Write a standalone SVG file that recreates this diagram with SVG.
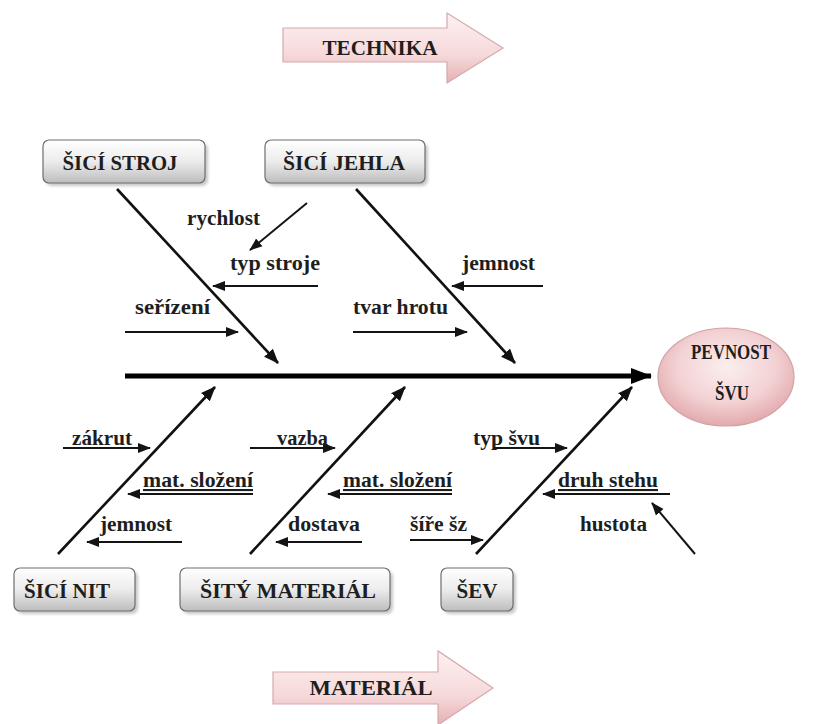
<svg xmlns="http://www.w3.org/2000/svg" width="819" height="724" viewBox="0 0 819 724" font-family="'Liberation Serif','DejaVu Serif',serif">
<style>
text{font-family:"Liberation Serif","DejaVu Serif",serif;font-weight:bold;fill:#1e1e1e}
.lbl{font-size:21px}
.box{font-size:22px}
.ul{text-decoration:underline}
.bx{fill:url(#gbox);stroke:#6e6e6e;stroke-width:1.2}
.sh{fill:#9a9a9a;opacity:0.55;filter:url(#blur)}
.big{fill:url(#gpink);stroke:#d6a9ac;stroke-width:1.2}
.c{stroke:#141414;stroke-width:2;fill:none;marker-end:url(#ah)}
.bone{stroke:#111;stroke-width:2.6;fill:none;marker-end:url(#ahb)}
</style>
<defs>
<linearGradient id="gbox" x1="0" y1="0" x2="0" y2="1">
<stop offset="0" stop-color="#ffffff"/>
<stop offset="0.5" stop-color="#ececec"/>
<stop offset="1" stop-color="#bdbdbd"/>
</linearGradient>
<linearGradient id="gpink" x1="0" y1="0" x2="0" y2="1">
<stop offset="0" stop-color="#fdf1f1"/>
<stop offset="0.6" stop-color="#f6d9da"/>
<stop offset="1" stop-color="#e6b0b3"/>
</linearGradient>
<radialGradient id="gell" cx="0.5" cy="0.4" r="0.6">
<stop offset="0" stop-color="#fbeeee"/>
<stop offset="0.6" stop-color="#f3d2d4"/>
<stop offset="1" stop-color="#e2a9ad"/>
</radialGradient>
<filter id="blur" x="-20%" y="-20%" width="140%" height="140%"><feGaussianBlur stdDeviation="1.5"/></filter>
<marker id="ah" markerUnits="userSpaceOnUse" markerWidth="14" markerHeight="12" refX="12" refY="5" orient="auto" viewBox="0 0 14 10">
<path d="M0,0 L13,5 L0,10 z" fill="#141414"/>
</marker>
<marker id="ahb" markerUnits="userSpaceOnUse" markerWidth="16" markerHeight="14" refX="14" refY="6" orient="auto" viewBox="0 0 16 12">
<path d="M0,0 L15,6 L0,12 z" fill="#111"/>
</marker>
<marker id="ahs" markerUnits="userSpaceOnUse" markerWidth="22" markerHeight="18" refX="20" refY="8" orient="auto" viewBox="0 0 22 16">
<path d="M0,0 L21,8 L0,16 z" fill="#000"/>
</marker>
</defs>
<rect width="819" height="724" fill="#ffffff"/>

<g id="technika">
<path d="M283,28 H447 V13 L503,48 L447,83 V62 H283 Z" class="big"/>
<text class="lbl" x="380" y="55" text-anchor="middle" textLength="115" lengthAdjust="spacingAndGlyphs">TECHNIKA</text>
</g>
<g id="material">
<path d="M273,672 H438 V651 L493,688 L438,725 V704 H273 Z" class="big"/>
<text class="lbl" x="371" y="695" text-anchor="middle" textLength="123" lengthAdjust="spacingAndGlyphs">MATERIÁL</text>
</g>

<g id="connectors">
<line x1="125" y1="376" x2="651" y2="376" stroke="#000" stroke-width="5" marker-end="url(#ahs)"/>
<line class="bone" x1="117" y1="189" x2="278" y2="363"/>
<line class="bone" x1="356" y1="189" x2="515" y2="363"/>
<line class="bone" x1="58" y1="554" x2="215" y2="387"/>
<line class="bone" x1="250" y1="554" x2="405" y2="387"/>
<line class="bone" x1="476" y1="554" x2="632" y2="387"/>
<line class="c" x1="307" y1="203" x2="250" y2="250"/>
<line class="c" x1="318" y1="286" x2="213" y2="286"/>
<line class="c" x1="125" y1="332" x2="238" y2="332"/>
<line class="c" x1="543" y1="286" x2="452" y2="286"/>
<line class="c" x1="353" y1="332" x2="467" y2="332"/>
<line class="c" x1="63" y1="448" x2="150" y2="448"/>
<line class="c" x1="250" y1="448" x2="335" y2="448"/>
<line class="c" x1="253" y1="494" x2="128" y2="494"/>
<line class="c" x1="182" y1="542" x2="87" y2="542"/>
<line class="c" x1="452" y1="494" x2="328" y2="494"/>
<line class="c" x1="362" y1="542" x2="276" y2="542"/>
<line class="c" x1="410" y1="540" x2="483" y2="540"/>
<line class="c" x1="495" y1="448" x2="567" y2="448"/>
<line class="c" x1="670" y1="494" x2="543" y2="494"/>
<line class="c" x1="695" y1="554" x2="652" y2="503"/>
</g>

<g id="labels">
<text class="lbl" x="187" y="225" textLength="73" lengthAdjust="spacingAndGlyphs">rychlost</text>
<text class="lbl" x="230" y="270" textLength="90" lengthAdjust="spacingAndGlyphs">typ stroje</text>
<text class="lbl" x="135" y="314" textLength="75" lengthAdjust="spacingAndGlyphs">seřízení</text>
<text class="lbl" x="462" y="270" textLength="73" lengthAdjust="spacingAndGlyphs">jemnost</text>
<text class="lbl" x="353" y="314" textLength="95" lengthAdjust="spacingAndGlyphs">tvar hrotu</text>
<text class="lbl" x="72" y="445" textLength="60" lengthAdjust="spacingAndGlyphs">zákrut</text>
<text class="lbl" x="277" y="445" textLength="51" lengthAdjust="spacingAndGlyphs">vazba</text>
<text class="lbl ul" x="143" y="487" textLength="110" lengthAdjust="spacingAndGlyphs">mat. složení</text>
<text class="lbl" x="100" y="531" textLength="72" lengthAdjust="spacingAndGlyphs">jemnost</text>
<text class="lbl ul" x="343" y="487" textLength="109" lengthAdjust="spacingAndGlyphs">mat. složení</text>
<text class="lbl" x="288" y="531" textLength="72" lengthAdjust="spacingAndGlyphs">dostava</text>
<text class="lbl" x="410" y="531" textLength="57" lengthAdjust="spacingAndGlyphs">šíře šz</text>
<text class="lbl" x="473" y="445" textLength="67" lengthAdjust="spacingAndGlyphs">typ švu</text>
<text class="lbl ul" x="558" y="487" textLength="100" lengthAdjust="spacingAndGlyphs">druh stehu</text>
<text class="lbl" x="580" y="531" textLength="67" lengthAdjust="spacingAndGlyphs">hustota</text>
</g>

<g id="sici-stroj">
<rect class="sh" x="46" y="143" width="162" height="43" rx="6"/>
<rect class="bx" x="43" y="140" width="162" height="43" rx="6"/>
<text class="box" x="120" y="170" text-anchor="middle" textLength="115" lengthAdjust="spacingAndGlyphs">ŠICÍ STROJ</text>
</g>
<g id="sici-jehla">
<rect class="sh" x="268" y="143" width="160" height="43" rx="6"/>
<rect class="bx" x="265" y="140" width="160" height="43" rx="6"/>
<text class="box" x="344" y="170" text-anchor="middle" textLength="122" lengthAdjust="spacingAndGlyphs">ŠICÍ JEHLA</text>
</g>
<g id="sici-nit">
<rect class="sh" x="17" y="571" width="121" height="43" rx="6"/>
<rect class="bx" x="14" y="568" width="121" height="43" rx="6"/>
<text class="box" x="67" y="598" text-anchor="middle" textLength="86" lengthAdjust="spacingAndGlyphs">ŠICÍ NIT</text>
</g>
<g id="sity-material">
<rect class="sh" x="183" y="571" width="210" height="43" rx="6"/>
<rect class="bx" x="180" y="568" width="210" height="43" rx="6"/>
<text class="box" x="288" y="598" text-anchor="middle" textLength="176" lengthAdjust="spacingAndGlyphs">ŠITÝ MATERIÁL</text>
</g>
<g id="sev">
<rect class="sh" x="444" y="571" width="72" height="43" rx="6"/>
<rect class="bx" x="441" y="568" width="72" height="43" rx="6"/>
<text class="box" x="477" y="598" text-anchor="middle" textLength="41" lengthAdjust="spacingAndGlyphs">ŠEV</text>
</g>
<g id="pevnost-svu">
<ellipse cx="726" cy="377" rx="68" ry="49" fill="url(#gell)" stroke="#cfa3a6" stroke-width="1.2"/>
<text class="lbl" x="731" y="359" text-anchor="middle" textLength="80" lengthAdjust="spacingAndGlyphs">PEVNOST</text>
<text class="lbl" x="732" y="400" text-anchor="middle" textLength="34" lengthAdjust="spacingAndGlyphs">ŠVU</text>
</g>
</svg>
